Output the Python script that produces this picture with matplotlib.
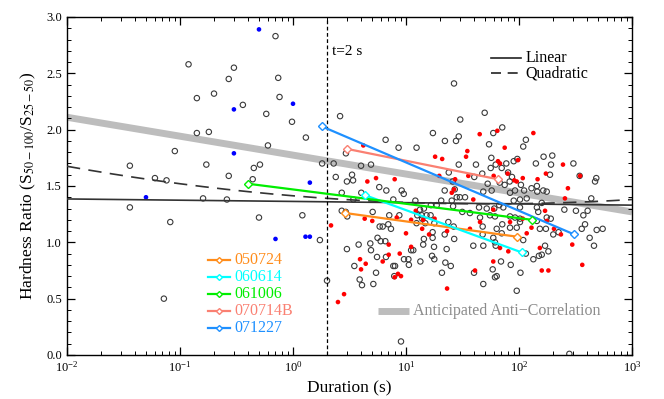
import numpy as np
import matplotlib
matplotlib.use("Agg")
import matplotlib.pyplot as plt
from matplotlib.ticker import MultipleLocator, LogLocator, NullFormatter

plt.rcParams['font.family'] = ['Liberation Serif', 'DejaVu Serif']
plt.rcParams['mathtext.fontset'] = 'stix'

# ---------------- data ----------------
open_dur = [0.70, 0.119, 0.30, 0.27, 0.74, 0.141, 0.20, 0.76, 0.36, 0.58, 0.98, 0.141, 0.18, 1.30, 0.60,
            0.090, 1.81, 0.036, 0.171, 0.51, 0.45, 0.27, 0.060, 0.076, 0.44, 0.16, 0.26, 0.036, 0.082, 0.50,
            1.21, 1.73, 0.072, 2.0,
            26.6, 2.61, 30.2, 17.3, 29.3, 27.7, 22.1, 6.6, 8.6, 12.4, 2.94, 29.3, 4.9, 4.0, 2.29, 23.9, 3.33,
            3.40, 3.0, 2.39, 5.8, 6.7, 22.0, 27.0, 25.9,
            49.7, 71.1, 59.2, 54.3, 115, 109, 41.6, 56.9, 89.8, 96.6, 165, 197, 141, 192, 62.2, 77.2, 303, 344,
            483, 471, 47.3, 40.2, 188, 86.7, 67.5, 74.7, 82.7, 104, 56.2, 70.3, 80, 52.8, 129, 144,
            2.70, 4.02, 9.16, 9.55, 3.42, 7.72, 12.1, 28.1, 30.0, 33.3, 20.5, 25.4, 18.7, 16.6, 13.3, 14.4, 12.6,
            13.8, 15.2, 16.5, 26.1, 31.5, 2.70, 2.93, 3.02, 5.07, 7.11, 8.73, 12.4, 13.9, 14.8, 17.8, 23.7, 26.4,
            5.85, 6.22, 6.97, 7.36, 17.2, 17.2, 22.0, 26.7, 5.6, 5.97, 6.56, 4.83, 3.81, 3.0, 4.9, 11.1, 11.6,
            14.4, 14.2, 17.7, 22.9, 5.54, 6.65, 3.49, 9.6, 10.5, 13.4, 17.0, 17.8, 22.3, 24.9, 10.6, 7.72, 8.0,
            5.43, 3.89, 7.87, 20.8, 4.08, 5.14,
            48.3, 57.3, 83.3, 92.2, 111, 145, 164, 176, 117, 102, 89.8, 159, 144, 102, 66.9, 72.6, 60.4, 51.8,
            44.3, 36.8, 45.2, 55.3, 61.3, 83.3, 92.2, 102, 148, 176, 191, 252, 319, 405, 371, 436, 384, 359, 487,
            550, 422, 461, 144, 102, 95.5, 153, 173, 224, 201, 71.1, 83.3, 47.7, 63.5, 47.7, 59.2, 61.3, 39.4,
            48.3, 62.2, 70.3, 109, 115, 134, 150, 159, 170, 182, 69.3, 84.5, 58.5, 40.0, 63.5, 61.3, 103, 48.3,
            95.5, 9.03, 279]
open_hr = [2.83, 2.58, 2.55, 2.45, 2.46, 2.28, 2.32, 2.29, 2.22, 2.14, 2.07, 1.97, 1.98, 1.93, 1.86,
           1.81, 1.70, 1.68, 1.69, 1.69, 1.66, 1.59, 1.57, 1.55, 1.56, 1.39, 1.38, 1.31, 1.18, 1.22,
           1.24, 1.02, 0.50, 0.66,
           2.41, 2.12, 2.09, 1.97, 1.94, 1.90, 1.90, 1.91, 1.84, 1.84, 1.79, 1.69, 1.69, 1.68, 1.70, 1.62, 1.60,
           1.55, 1.54, 1.58, 1.49, 1.46, 1.46, 1.47, 1.54,
           2.15, 2.02, 1.97, 1.87, 1.91, 1.85, 1.69, 1.75, 1.72, 1.74, 1.76, 1.77, 1.70, 1.69, 1.69, 1.70, 1.70, 1.59,
           1.57, 1.54, 1.61, 1.58, 1.60, 1.58, 1.53, 1.51, 1.54, 1.51, 1.66, 1.66, 1.62, 1.52, 1.48, 1.50,
           1.44, 1.44, 1.46, 1.43, 1.38, 1.38, 1.37, 1.40, 1.40, 1.40, 1.37, 1.37, 1.33, 1.33, 1.29, 1.30, 1.24,
           1.24, 1.24, 1.24, 1.32, 1.27, 1.28, 1.27, 1.23, 1.27, 1.24, 1.24, 1.17, 1.21, 1.17, 1.17, 1.18, 1.14,
           1.14, 1.14, 1.16, 1.12, 1.09, 1.04, 1.07, 1.03, 1.04, 1.01, 1.01, 0.99, 0.98, 0.94, 0.93, 0.93, 0.93,
           1.03, 0.98, 0.96, 0.94, 0.87, 0.87, 0.79, 0.85, 0.85, 0.83, 0.88, 0.85, 0.82, 0.79, 0.80, 0.79, 0.79,
           0.73, 0.67, 0.70, 0.73, 0.62, 0.63,
           1.45, 1.46, 1.44, 1.46, 1.46, 1.45, 1.46, 1.45, 1.39, 1.38, 1.37, 1.35, 1.31, 1.31, 1.33, 1.31, 1.30, 1.30,
           1.31, 1.26, 1.22, 1.24, 1.23, 1.23, 1.22, 1.21, 1.27, 1.22, 1.21, 1.29, 1.28, 1.28, 1.24, 1.39, 1.16, 1.12, 1.11,
           1.12, 1.04, 0.97, 1.19, 1.18, 1.13, 1.12, 1.12, 1.09, 1.07, 1.16, 1.13, 1.14, 1.12, 1.07, 1.04, 1.00, 0.97,
           0.97, 0.97, 1.08, 1.02, 0.90, 0.85, 0.88, 0.89, 0.97, 0.92, 0.83, 0.80, 0.76, 0.73, 0.70, 0.69, 0.73, 0.63,
           0.57, 0.12, 0.01]

red_dur = [2.17, 4.19, 4.55, 5.43, 7.94, 18.1, 20.9, 34.0, 34.9, 35.6, 27.2, 19.7,
           44.9, 64.3, 74.7, 134, 98, 245, 65.2, 67.9, 59.7, 79.4, 108, 173, 146, 347, 271, 90.9, 95.5,
           4.31, 5.03, 7.03, 10.0, 11.1, 8.8, 7.03, 6.22, 3.92, 4.40, 4.0, 8.49, 9.03, 7.94, 2.83, 2.50,
           8.28, 11.1, 12.2, 14.2, 17.9, 13.9, 16.0, 23.1, 25.4, 26.6, 23.1,
           39.4, 59.2, 83.3, 129, 108, 176, 204, 255, 170, 235, 117, 67.9, 80.4, 153, 296, 363, 59.2,
           40.8, 159, 182, 36.8, 45.2]
red_hr = [1.15, 1.86, 1.54, 1.57, 1.56, 1.76, 1.74, 1.76, 1.81, 1.59, 1.56, 1.59,
          1.96, 1.99, 1.84, 1.97, 1.73, 1.69, 1.72, 1.70, 1.59, 1.61, 1.57, 1.61, 1.56, 1.59, 1.48, 1.55, 1.54,
          1.21, 1.19, 0.98, 1.08, 0.96, 0.90, 0.89, 0.83, 0.85, 0.81, 0.76, 0.72, 0.70, 0.69, 0.54, 0.47,
          1.22, 1.20, 1.28, 1.20, 1.21, 1.12, 1.07, 1.10, 1.44, 1.47, 0.59,
          1.38, 1.29, 1.18, 1.13, 1.21, 1.19, 1.12, 1.39, 1.28, 1.07, 1.08, 0.95, 0.92, 0.95, 0.98, 0.80, 0.83,
          0.75, 0.75, 0.75, 1.12, 1.18]

blue_dur = [0.50, 1.0, 0.30, 0.30, 1.41, 0.050, 0.70, 1.29, 1.41]
blue_hr = [2.89, 2.23, 2.18, 1.79, 1.53, 1.40, 1.03, 1.05, 1.05]

# fitted relations in log10(duration): y = sum c_k * L^k
anti_coef = [1.774, -0.168]
linear_coef = [1.363, -0.011]
quad_coef = [1.413, -0.083, 0.024]

grb_names = ['050724', '060614', '061006', '070714B', '071227']
grb_colors = ['#ff8c1a', '#00ffff', '#00ee00', '#fa8072', '#1e90ff']
grb_dur = [[2.9, 96], [4.3, 106], [0.40, 130], [2.98, 65], [1.79, 308]]
grb_hr = [[1.26, 1.05], [1.42, 0.91], [1.52, 1.20], [1.83, 1.56], [2.03, 1.07]]

t_split = 2.0

# ---------------- figure ----------------
fig = plt.figure(figsize=(6.64, 3.99), dpi=100)
ax = fig.add_axes([0.1009, 0.1103, 0.8509, 0.8471])
ax.set_xscale('log')
ax.set_xlim(1e-2, 1e3)
ax.set_ylim(0, 3.0)

L = np.linspace(-2, 3, 300)
xx = 10 ** L
ax.plot(xx, np.polyval(anti_coef[::-1], L), color='#bdbdbd', lw=5, solid_capstyle='butt', zorder=1)

ax.scatter(open_dur, open_hr, s=15, facecolors='none', edgecolors='#3a3a3a', linewidths=0.8, zorder=2)
ax.scatter(red_dur, red_hr, s=11, color='#ff0000', edgecolors='none', zorder=3)
ax.scatter(blue_dur, blue_hr, s=11, color='#0000ff', edgecolors='none', zorder=3)

ax.plot(xx, np.polyval(linear_coef[::-1], L), color='#333333', lw=1.2, zorder=4)
ax.plot(xx, np.polyval(quad_coef[::-1], L), color='#333333', lw=1.2, dashes=(8, 5), zorder=4)

ax.axvline(t_split, color='black', lw=0.9, dashes=(3, 2), zorder=4)
ax.text(2.2, 2.69, 't=2 s', fontsize=11, ha='left', va='center')

for name, c, d, h in zip(grb_names, grb_colors, grb_dur, grb_hr):
    ax.plot(d, h, color=c, lw=1.6, zorder=5)
    ax.plot(d, h, ls='none', marker='D', ms=4, mfc='white', mec=c, mew=1.0, zorder=6)

# legends drawn in axes coordinates
ax.plot([0.750, 0.804], [0.880, 0.880], color='#222222', lw=1.2, transform=ax.transAxes)
ax.text(0.811, 0.880, 'Linear', fontsize=11.5, va='center', transform=ax.transAxes)
ax.plot([0.750, 0.804], [0.833, 0.833], color='#222222', lw=1.2, dashes=(6, 4), transform=ax.transAxes)
ax.text(0.811, 0.833, 'Quadratic', fontsize=11.5, va='center', transform=ax.transAxes)

ax.plot([0.550, 0.605], [0.130, 0.130], color='#bdbdbd', lw=5, solid_capstyle='butt', transform=ax.transAxes)
ax.text(0.612, 0.130, 'Anticipated Anti\u2212Correlation', fontsize=11.5, color='#8c8c8c',
        va='center', transform=ax.transAxes)

rows = [0.281, 0.230, 0.180, 0.131, 0.081]
for name, c, yy in zip(grb_names, grb_colors, rows):
    ax.plot([0.250, 0.2695, 0.289], [yy, yy, yy], color=c, lw=1.6, marker='D', ms=3,
            markevery=[1], mfc='white', mec=c, transform=ax.transAxes)
    ax.text(0.297, yy, name, color=c, fontsize=11.5, va='center', transform=ax.transAxes)

# ticks
ax.yaxis.set_major_locator(MultipleLocator(0.5))
ax.yaxis.set_minor_locator(MultipleLocator(0.1))
ax.yaxis.set_major_formatter(matplotlib.ticker.FormatStrFormatter('%.1f'))
ax.xaxis.set_major_locator(LogLocator(base=10, numticks=10))
ax.xaxis.set_minor_locator(LogLocator(base=10, subs=np.arange(2, 10), numticks=20))
ax.xaxis.set_minor_formatter(NullFormatter())
ax.tick_params(which='both', direction='in', top=True, right=True, labelsize=9)
ax.tick_params(which='major', length=6, width=0.9)
ax.tick_params(which='minor', length=3, width=0.7)
for s in ax.spines.values():
    s.set_linewidth(1.0)

ax.set_xlabel('Duration (s)', fontsize=12.5, labelpad=4)
ax.set_ylabel(r'Hardness Ratio (S$_{\rm 50-100}$/S$_{\rm 25-50}$)', fontsize=12.5, labelpad=6)

fig.savefig('out.png', dpi=100)
